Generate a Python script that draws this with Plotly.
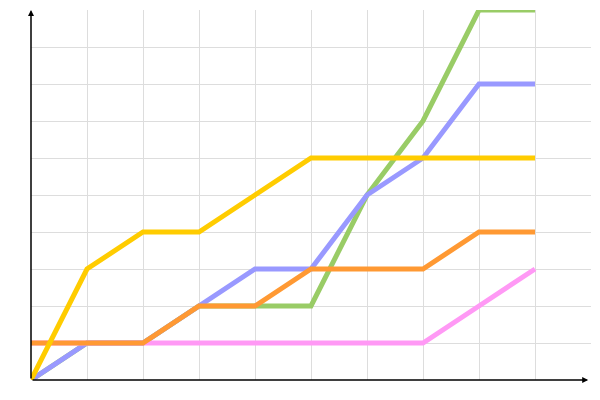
import plotly.graph_objects as go

# x positions and the five series (0..10 each way)
steps = [0, 1, 2, 3, 4, 5, 6, 7, 8, 9]
green = [0, 1, 1, 2, 2, 2, 5, 7, 10, 10]
blue = [0, 1, 1, 2, 3, 3, 5, 6, 8, 8]
pink = [1, 1, 1, 1, 1, 1, 1, 1, 2, 3]
orange = [1, 1, 1, 2, 2, 3, 3, 3, 4, 4]
yellow = [0, 3, 4, 4, 5, 6, 6, 6, 6, 6]

# bottom to top drawing order, like the picture
series = [
    (green, "#99CC66"),
    (blue, "#9999FF"),
    (pink, "#FF99F5"),
    (orange, "#FF9933"),
    (yellow, "#FFCC00"),
]

fig = go.Figure()
for vals, col in series:
    fig.add_trace(go.Scatter(x=steps, y=vals, mode="lines",
                             line=dict(color=col, width=5),
                             cliponaxis=False, hoverinfo="skip"))

grid = dict(range=[0, 10], tickvals=list(range(1, 10)), showticklabels=False,
            ticks="", showgrid=True, gridcolor="#dddddd", gridwidth=1,
            zeroline=False, showline=False, fixedrange=True)

fig.update_layout(
    width=600, height=400,
    margin=dict(l=31, r=9, t=10, b=20, pad=0, autoexpand=False),
    paper_bgcolor="white", plot_bgcolor="white",
    showlegend=False,
    xaxis=grid, yaxis=grid,
)

# the two axes with small arrow heads
fig.add_annotation(xref="x domain", yref="y domain", axref="x domain", ayref="y domain",
                   x=0, y=1.0, ax=0, ay=0, showarrow=True, arrowhead=2,
                   arrowsize=0.8, arrowwidth=1.5, arrowcolor="black", text="")
fig.add_annotation(xref="x domain", yref="y domain", axref="x domain", ayref="y domain",
                   x=0.995, y=0, ax=0, ay=0, showarrow=True, arrowhead=2,
                   arrowsize=0.8, arrowwidth=1.5, arrowcolor="black", text="")

# page body has an 8px margin by default, drop it so the chart sits at 0,0
fig.write_html("out.html", post_script="document.body.style.margin='0';",
               config={"displayModeBar": False})
